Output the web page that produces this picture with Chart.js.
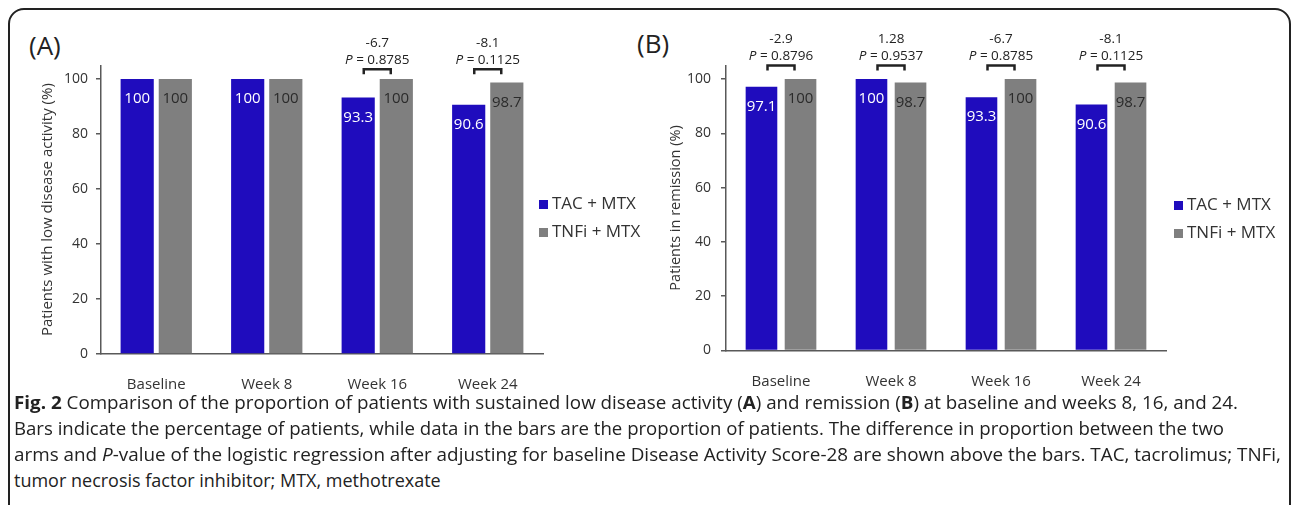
<!DOCTYPE html>
<html>
<head>
<meta charset="utf-8">
<script src="https://cdn.jsdelivr.net/npm/chart.js@4.4.1/dist/chart.umd.min.js"></script>
<style>
  html, body { margin: 0; padding: 0; background: #fff; }
  body { width: 1292px; height: 505px; position: relative; overflow: hidden; font-family: "Open Sans", sans-serif; color: #222; }
  #frame { position: absolute; left: 8px; top: 8px; width: 1283px; height: 600px; border: 2px solid #222; border-radius: 16px; box-sizing: border-box; }
  canvas { position: absolute; top: 0; }
  #cA { left: 0; }
  #cB { left: 620px; }
  .panel { position: absolute; font-size: 26px; line-height: 30px; color: #222; }
  .cap { position: absolute; left: 14px; font-size: 18px; line-height: 26px; white-space: nowrap; transform-origin: 0 0; color: #222; }
</style>
</head>
<body>
<div id="frame"></div>
<div class="panel" style="left:29px; top:30px;">(A)</div>
<div class="panel" style="left:637px; top:28px;">(B)</div>
<canvas id="cA" width="650" height="395"></canvas>
<canvas id="cB" width="672" height="395"></canvas>

<div class="cap" style="top:389px" data-w="1224"><b>Fig. 2</b> Comparison of the proportion of patients with sustained low disease activity (<b>A</b>) and remission (<b>B</b>) at baseline and weeks 8, 16, and 24.</div>
<div class="cap" style="top:415px" data-w="1210">Bars indicate the percentage of patients, while data in the bars are the proportion of patients. The difference in proportion between the two</div>
<div class="cap" style="top:441px" data-w="1267">arms and <i>P</i>-value of the logistic regression after adjusting for baseline Disease Activity Score-28 are shown above the bars. TAC, tacrolimus; TNFi,</div>
<div class="cap" style="top:467px">tumor necrosis factor inhibitor; MTX, methotrexate</div>

<script>
const categories = ['Baseline', 'Week 8', 'Week 16', 'Week 24'];
const seriesNames = ['TAC + MTX', 'TNFi + MTX'];
const seriesColors = ['#1f0cbd', '#7f7f7f'];
const yTicks = [0, 20, 40, 60, 80, 100];

// (A) low disease activity
const lowTac = [100, 100, 93.3, 90.6];
const lowTnfi = [100, 100, 100, 98.7];
const lowDiff = [null, null, '-6.7', '-8.1'];
const lowP = [null, null, '0.8785', '0.1125'];

// (B) remission
const remTac = [97.1, 100, 93.3, 90.6];
const remTnfi = [100, 98.7, 100, 98.7];
const remDiff = ['-2.9', '1.28', '-6.7', '-8.1'];
const remP = ['0.8796', '0.9537', '0.8785', '0.1125'];

const FONT = '"Open Sans", sans-serif';

// labels in the bars, difference / P above them, and the legend
const extras = {
  id: 'extras',
  afterDatasetsDraw(chart, args, o) {
    const ctx = chart.ctx;
    const xs = chart.scales.x;
    const top = chart.chartArea.top;
    ctx.save();
    ctx.textAlign = 'center';
    ctx.textBaseline = 'middle';
    ctx.font = '15px ' + FONT;
    chart.data.datasets.forEach((ds, di) => {
      chart.getDatasetMeta(di).data.forEach((bar, i) => {
        ctx.fillStyle = di === 0 ? '#ffffff' : '#2b2b2b';
        ctx.fillText(String(ds.data[i]), bar.x, bar.y + 20);
      });
    });

    ctx.fillStyle = '#222';
    ctx.strokeStyle = '#222';
    o.diffs.forEach((d, i) => {
      if (d === null) return;
      const cx = xs.getPixelForValue(i);
      ctx.font = '13.5px ' + FONT;
      ctx.textAlign = 'center';
      ctx.fillText(d, cx, top + o.line1);
      // "P = 0.xxxx" with italic P
      const rest = ' = ' + o.ps[i];
      ctx.font = 'italic 13.5px ' + FONT;
      const wP = ctx.measureText('P').width;
      ctx.font = '13.5px ' + FONT;
      const wR = ctx.measureText(rest).width;
      const x0 = cx - (wP + wR) / 2;
      ctx.textAlign = 'left';
      ctx.font = 'italic 13.5px ' + FONT;
      ctx.fillText('P', x0, top + o.line2);
      ctx.font = '13.5px ' + FONT;
      ctx.fillText(rest, x0 + wP, top + o.line2);
      // bracket
      const by = top + o.bracket;
      ctx.lineWidth = 2.5;
      ctx.beginPath();
      ctx.moveTo(cx - 13.5, by + 5);
      ctx.lineTo(cx - 13.5, by);
      ctx.lineTo(cx + 13.5, by);
      ctx.lineTo(cx + 13.5, by + 5);
      ctx.stroke();
    });

    ctx.textAlign = 'left';
    ctx.font = '17px ' + FONT;
    chart.data.datasets.forEach((ds, di) => {
      const ly = o.legendY[di];
      ctx.fillStyle = ds.backgroundColor;
      ctx.fillRect(o.legendX, ly - 4.5, 9, 9);
      ctx.fillStyle = '#333';
      ctx.fillText(ds.label, o.legendX + 13, ly);
    });
    ctx.restore();
  }
};

function makeChart(id, tac, tnfi, title, box, extraOpts) {
  return new Chart(document.getElementById(id), {
    type: 'bar',
    data: {
      labels: categories,
      datasets: [
        { label: seriesNames[0], data: tac, backgroundColor: seriesColors[0] },
        { label: seriesNames[1], data: tnfi, backgroundColor: seriesColors[1] }
      ]
    },
    options: {
      responsive: false,
      animation: false,
      categoryPercentage: box.cat,
      barPercentage: box.bar,
      layout: { padding: { top: box.top, right: box.right, bottom: 0, left: 0 } },
      plugins: { legend: { display: false }, tooltip: { enabled: false }, extras: extraOpts },
      scales: {
        x: {
          grid: { display: false },
          border: { color: '#595959', width: 1.5 },
          ticks: { color: '#333', font: { family: FONT, size: 15 }, padding: 14 },
          afterFit: s => { s.height = box.xh; }
        },
        y: {
          min: 0,
          max: 105,
          afterBuildTicks: s => { s.ticks = yTicks.map(v => ({ value: v })); },
          grid: { drawOnChartArea: false, tickLength: 5, color: '#595959', lineWidth: 1.5 },
          border: { color: '#595959', width: 1.5 },
          ticks: { color: '#333', font: { family: FONT, size: 14 }, padding: box.tpad },
          title: { display: true, text: title, color: '#333', font: { family: FONT, size: box.tsize }, padding: { top: box.tpt, bottom: 0 } },
          afterFit: s => { s.width = box.yw; }
        }
      }
    },
    plugins: [extras]
  });
}

makeChart('cA', lowTac, lowTnfi, 'Patients with low disease activity (%)',
  { cat: 0.69, bar: 0.87, top: 65.25, right: 107, xh: 41, yw: 101, tpad: 8, tsize: 15, tpt: 39 },
  { diffs: lowDiff, ps: lowP, line1: -22, line2: -5, bracket: 4, legendX: 539, legendY: [204.5, 232.5] });

makeChart('cB', remTac, remTnfi, 'Patients in remission (%)',
  { cat: 0.71, bar: 0.81, top: 65.4, right: 126, xh: 44.5, yw: 106, tpad: 10, tsize: 14.5, tpt: 47 },
  { diffs: remDiff, ps: remP, line1: -26, line2: -9, bracket: 0, legendX: 554, legendY: [205.5, 233.5] });

// stretch the full caption lines to their width in the figure
document.querySelectorAll('.cap[data-w]').forEach(el => {
  const w = el.getBoundingClientRect().width;
  el.style.transform = 'scaleX(' + (Number(el.dataset.w) / w) + ')';
});
</script>
</body>
</html>
